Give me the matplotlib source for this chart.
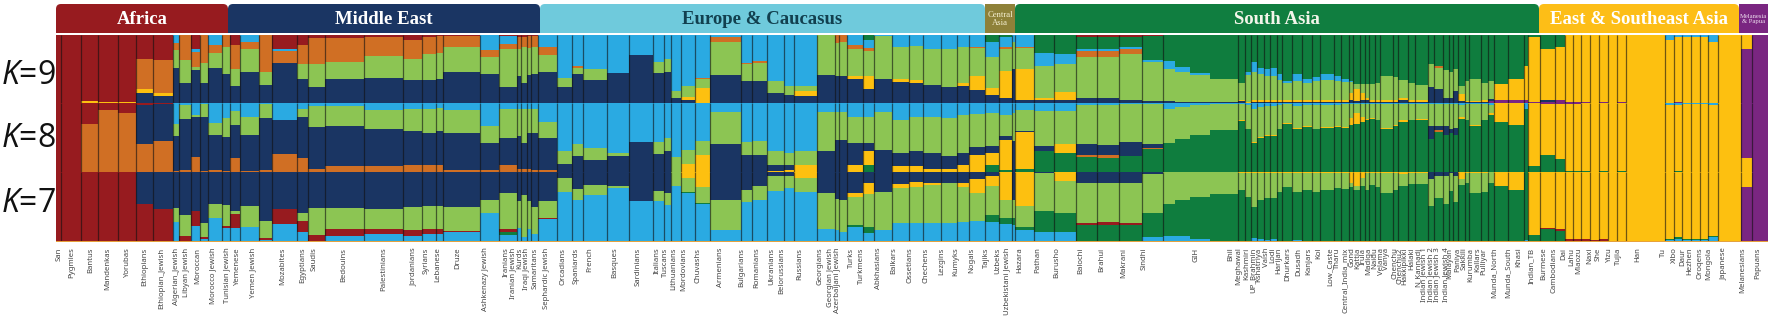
from matplotlib import pyplot as plt
from matplotlib.patches import FancyBboxPatch
import numpy as np

W, H = 1772, 319
LEFT, RIGHT = 56, 1768

red = '#971B1F'
navy = '#1A3563'
lblue = '#2AAAE2'
orange = '#D06F24'
lgreen = '#8CC553'
dgreen = '#0F7D3E'
yellow = '#FDC010'
purple = '#7A2681'

# width of each column of samples
col_sizes = [5, 20, 17, 20, 18, 17, 20] \
    + [6, 12, 9, 8, 14, 8, 10, 19, 13, 25, 11, 17, 39, 39, 19, 14, 7, 37, 19, 18, 4, 6, 4, 7, 19] \
    + [15, 11, 24, 22, 24, 11, 7, 10, 14, 15, 31, 11, 15, 17, 10, 23, 18, 4, 8, 16, 11, 18, 17, 14, 18, 16, 12, 16] \
    + [14, 13, 3, 19] \
    + [20, 22, 21, 22, 23, 21] \
    + [12, 15, 20, 28] \
    + [7, 6, 6, 7, 6, 7, 5, 10, 10, 10, 8, 14, 7, 8, 4, 7, 5, 4, 6, 5, 13, 5, 10, 7, 13, 6, 9, 6, 4, 5, 7, 4, 12, 7, 6, 14, 16] \
    + [4, 12, 15, 10, 8, 8, 9, 9, 9, 9, 9, 39, 9, 8, 9, 9, 8, 10, 23, 11, 16]
# the GIH columns are one population, no line between them
gih_inner = [70, 71, 72]

# K=9, top to bottom, percent
k9_red = [100, 100, 97, 98, 98, 35, 37] \
    + [0, 0, 20, 0, 0, 0, 15, 0, 0, 21, 15, 5, 5, 3, 7, 3, 2, 1, 0, 1, 3, 3, 2, 1, 0] \
    + [0] * 28 + [0] * 4 + [0, 0, 3, 3, 3, 2] + [0] * 4 + [0] * 37 + [0] * 21
k9_dgreen = [0] * 7 + [0] * 25 + [0] * 20 + [7] + [0] * 7 + [10, 3, 0, 0] \
    + [27, 28, 17, 17, 15, 35] + [38, 47, 56, 64] \
    + [70, 55, 40, 48, 50, 48, 58, 68, 58, 65, 62, 58, 60, 65, 67, 72, 72, 72, 72, 70, 60, 62, 66, 70, 73,
       42, 45, 52, 55, 50, 75, 68, 65, 70, 68, 72, 65] \
    + [45, 3, 20, 18] + [0] * 17
k9_lblue = [0] * 7 \
    + [12, 0, 5, 0, 15, 0, 0, 10, 0, 3, 0, 0, 0, 0, 0, 0, 0, 0, 22, 12, 0, 0, 0, 0, 17] \
    + [63, 46, 50, 56, 29, 40, 36, 83, 75, 63, 3, 41, 38, 68, 75, 75, 0, 0, 0, 15, 12, 2, 18, 16, 20, 20, 18, 18] \
    + [22, 15, 10, 18] + [18, 15, 3, 3, 2, 3] + [12, 8, 3, 0] \
    + [0, 4, 15, 10, 10, 12, 8, 3, 9, 5, 5, 8, 7, 4, 2] + [0] * 22 \
    + [0] * 12 + [8, 3, 3, 3, 3, 10] + [0] * 3
k9_orange = [0, 0, 0, 0, 0, 45, 48] \
    + [10, 37, 22, 41, 12, 17, 35, 10, 54, 17, 27, 38, 34, 28, 28, 25, 25, 17, 10, 8, 17, 15, 17, 17, 12] \
    + [0, 2, 0, 0, 0, 0, 0, 0, 0, 2, 8, 2, 3, 0, 0, 0, 0, 12, 10, 5, 5, 0, 0, 0, 0, 0, 0, 1] \
    + [0, 2, 0, 1] + [0, 0, 10, 10, 8, 0] + [0] * 4 + [0] * 26 + [3] + [0] * 10 + [0] * 21
k9_lgreen = [0] * 7 \
    + [26, 34, 5, 29, 22, 40, 25, 34, 20, 0, 22, 33, 26, 32, 31, 38, 38, 37, 25, 55, 40, 52, 40, 40, 25] \
    + [13, 9, 16, 0, 0, 16, 18, 10, 16, 13, 48, 25, 26, 18, 13, 8, 59, 48, 50, 40, 36, 63, 46, 50, 53, 56, 52, 42] \
    + [46, 33, 40, 31] + [48, 41, 60, 60, 68, 57] + [47, 43, 40, 35] \
    + [25, 39, 41, 38, 36, 36, 30, 25, 29, 26, 29, 30, 29, 27, 17, 7, 14, 21, 24, 26, 36, 34, 26, 26, 23,
       35, 32, 41, 38, 33, 12, 29, 32, 26, 26, 0, 0] \
    + [0] * 21
k9_yellow = [0, 0, 3, 2, 2, 5, 5] + [0] * 25 \
    + [0] * 8 + [4, 22] + [0] * 5 + [7] + [0] * 3 + [5, 20, 0, 5, 5, 1, 0, 5, 20] \
    + [10, 40, 0, 46] + [2, 12, 0, 0, 0, 0] + [0] * 4 \
    + [2] * 14 + [10, 18, 10, 3, 2, 2, 2, 2, 4, 2, 2, 0, 0, 0, 0, 0, 10, 2, 2, 2, 0, 24, 30] \
    + [50, 95, 76, 78, 99, 99, 99, 100, 99, 100, 99, 100, 92, 96, 97, 97, 97, 90, 100, 20, 0]
k9_purple = [0] * 7 + [0] * 25 + [0] * 28 + [0] * 4 + [0] * 6 + [0] * 4 + [0] * 34 + [3, 4, 5] \
    + [5, 2, 2, 4, 1, 1, 1, 0, 1, 0, 1, 0, 0, 1, 0, 0, 0, 0, 0, 80, 100]

# K=8
k8_red = [100, 100, 30, 10, 14, 3, 2] + [0] * 125
k8_purple = [0] * 111 + [0, 0, 1, 1, 1, 1, 0, 0, 0, 0, 0, 0, 0, 0, 0, 0, 0, 0, 0, 80, 100]
k8_lblue = [0] * 7 \
    + [30, 3, 18, 2, 29, 22, 12, 20, 2, 24, 8, 5, 4, 10, 8, 8, 7, 10, 33, 8, 8, 8, 8, 8, 28] \
    + [70, 60, 65, 72, 57, 57, 50, 78, 68, 55, 13, 57, 55, 70, 72, 70, 13, 13, 13, 20, 20, 13, 24, 20, 20, 22, 18, 16] \
    + [15, 18, 15, 10] + [12, 12, 3, 3, 2, 2] + [8, 6, 3, 1] \
    + [2, 3, 8, 6, 5, 5, 3, 2, 4, 3, 3, 3, 3, 2, 2, 1, 1, 1, 1, 1, 1, 1, 1, 1, 1, 1, 1, 1, 1, 1, 3, 1, 1, 1, 3, 0, 0] \
    + [8, 0, 0, 0, 0, 0, 0, 0, 0, 0, 0, 0, 3, 3, 1, 1, 1, 3, 0, 0, 0]
k8_lgreen = [0] * 7 \
    + [18, 20, 2, 18, 18, 27, 20, 27, 20, 0, 12, 30, 30, 28, 32, 35, 33, 33, 25, 42, 40, 50, 35, 35, 22] \
    + [18, 17, 18, 5, 0, 17, 20, 22, 21, 20, 46, 18, 20, 20, 18, 20, 56, 40, 40, 38, 38, 55, 48, 50, 53, 55, 55, 48] \
    + [48, 30, 40, 30] + [50, 48, 57, 58, 55, 58] + [50, 46, 43, 38] \
    + [23, 34, 49, 43, 42, 42, 34, 27, 32, 31, 34, 32, 31, 33, 20, 14, 19, 22, 21, 23, 35, 31, 24, 23, 22,
       33, 33, 32, 37, 35, 17, 23, 31, 23, 12, 0, 0] \
    + [0] * 21
k8_navy = [0, 0, 0, 0, 0, 57, 53] \
    + [50, 74, 58, 78, 50, 49, 48, 51, 75, 50, 60, 60, 58, 54, 50, 47, 50, 54, 39, 40, 47, 37, 53, 54, 47] \
    + [12, 23, 17, 23, 43, 26, 30, 0, 0, 0, 41, 25, 25, 8, 7, 0, 31, 47, 47, 32, 12, 32, 20, 22, 22, 19, 17, 12] \
    + [10, 5, 45, 2] + [8, 0, 15, 15, 20, 5] + [0] * 4 + [0] * 25 + [18, 5, 13, 5, 10] + [0] * 7 + [0] * 21
k8_yellow = [0] * 7 + [0] * 25 \
    + [0, 0, 0, 0, 0, 0, 0, 0, 11, 25, 0, 0, 0, 2, 3, 10, 0, 0, 0, 10, 20, 0, 8, 8, 5, 4, 10, 24] \
    + [17, 44, 0, 53] + [0, 12, 0, 0, 0, 0] + [0] * 4 \
    + [1] * 14 + [10, 15, 8, 2, 1, 1, 1, 1, 3, 1, 1, 0, 0, 0, 0, 0, 3, 1, 1, 1, 3, 28, 32] \
    + [0, 92, 75, 80, 98, 98, 99, 100, 99, 100, 99, 100, 97, 95, 99, 99, 99, 97, 100, 20, 0]
k8_orange = [0, 0, 70, 90, 86, 40, 45] \
    + [2, 3, 22, 2, 3, 2, 20, 2, 3, 26, 20, 5, 8, 8, 10, 10, 10, 3, 3, 10, 5, 5, 4, 3, 3] \
    + [0] * 28 + [0] * 4 + [0, 0, 3, 3, 0, 2] + [0] * 4 + [0] * 26 + [3] + [0] * 10 + [0] * 21

# K=7
k7_navy = [0, 0, 0, 0, 0, 45, 53] \
    + [52, 62, 55, 73, 45, 47, 55, 49, 70, 53, 58, 52, 52, 53, 50, 48, 48, 50, 40, 30, 42, 33, 42, 50, 42] \
    + [9, 24, 18, 20, 42, 27, 30, 0, 0, 0, 40, 25, 20, 5, 5, 0, 30, 38, 40, 30, 15, 28, 17, 14, 15, 15, 15, 10] \
    + [5, 0, 40, 0] + [2, 0, 15, 15, 15, 3] + [0] * 4 + [0] * 25 + [10, 5, 5, 2, 5] + [0] * 7 + [0] * 21
k7_yellow = [0] * 7 + [0] * 25 \
    + [0] * 8 + [8, 22] + [0] * 5 + [8] + [0] * 3 + [5, 17, 0, 6, 7, 3, 0, 6, 20] \
    + [15, 40, 0, 48] + [0, 13, 0, 0, 0, 0] + [0] * 4 \
    + [2] * 14 + [15, 20, 8, 2, 2, 2, 2, 2, 3, 2, 2, 0, 0, 0, 0, 0, 10, 2, 2, 2, 0, 20, 25] \
    + [0, 90, 80, 82, 96, 96, 96, 97, 96, 98, 98, 100, 96, 93, 96, 96, 96, 92, 99, 22, 0]
k7_lgreen = [0] * 7 \
    + [20, 30, 0, 20, 20, 30, 5, 29, 24, 0, 12, 38, 30, 29, 33, 33, 34, 34, 18, 52, 38, 60, 40, 38, 24] \
    + [19, 16, 15, 3, 0, 15, 17, 20, 20, 22, 43, 18, 20, 22, 18, 20, 52, 45, 45, 40, 47, 55, 50, 52, 55, 58, 50, 40] \
    + [42, 26, 25, 30] + [53, 45, 58, 57, 58, 55] + [45, 40, 36, 31] \
    + [23, 33, 48, 38, 35, 35, 26, 20, 26, 23, 26, 23, 21, 22, 7, 5, 12, 23, 16, 20, 28, 23, 17, 15, 15,
       38, 32, 40, 25, 38, 8, 13, 28, 26, 15, 0, 0] \
    + [0] * 21
k7_red = [100, 100, 100, 100, 100, 53, 45] \
    + [0, 6, 22, 3, 0, 3, 20, 1, 3, 21, 15, 8, 10, 6, 8, 8, 6, 2, 0, 4, 0, 0, 0, 0, 1] \
    + [0] * 28 + [0] * 4 + [0, 0, 3, 3, 2, 0] + [0] * 4 + [0] * 37 \
    + [0, 0, 2, 2, 2, 2, 2, 1, 2] + [0] * 12
k7_purple = [0] * 130 + [78, 100]
k7_dgreen = [0, 0, 0, 0, 0, 2, 2] + [0] * 19 + [4] + [0] * 5 \
    + [0] * 8 + [2, 1] + [0] * 9 + [3, 8] + [0] * 7 \
    + [10, 8, 10, 5] + [30, 28, 22, 23, 23, 35] + [47, 51, 60, 68] \
    + [74, 63, 44, 55, 60, 59, 70, 77, 69, 74, 70, 73, 75, 75, 77, 74, 80, 75, 82, 78, 70, 75, 80, 83, 83,
       52, 63, 55, 73, 57, 82, 85, 70, 72, 83, 80, 75] \
    + [97, 8, 18, 16, 2, 2, 2, 2, 2, 2, 2, 0, 1, 2, 1, 1, 1, 1, 0, 0, 0]

# the None colour of a panel takes what is left of each column
panel_k9 = [(k9_red, red), (k9_dgreen, dgreen), (k9_lblue, lblue), (k9_orange, orange),
            (k9_lgreen, lgreen), (k9_yellow, yellow), (None, navy), (k9_purple, purple)]
panel_k8 = [(k8_red, red), (k8_purple, purple), (k8_lblue, lblue), (k8_lgreen, lgreen),
            (k8_navy, navy), (k8_yellow, yellow), (k8_orange, orange), (None, dgreen)]
panel_k7 = [(k7_navy, navy), (k7_yellow, yellow), (k7_lgreen, lgreen), (k7_red, red),
            (k7_purple, purple), (k7_dgreen, dgreen), (None, lblue)]

region_names = ['Africa', 'Middle East', 'Europe & Caucasus', 'Central\nAsia', 'South Asia',
                'East & Southeast Asia', 'Melanesia\n& Papua']
region_sizes = [172, 312, 445, 30, 524, 200, 29]
region_colors = [red, navy, '#6FCADC', '#8E8139', '#107E40', '#FDBE17', '#7A2681']
region_text = ['white', 'white', '#12404F', '#F4EFD0', '#F3F5EA', 'white', '#EEDDEE']
region_fs = [13.5, 13.5, 13.5, 6.2, 13.5, 13.5, 4.8]
region_weight = ['bold', 'bold', 'bold', 'normal', 'bold', 'bold', 'normal']
region_round = [5, 5, 5, 0.1, 5, 5, 0.1]

pop_names = ['San', 'Pygmies', 'Bantus', 'Mandenkas', 'Yorubas', 'Ethiopians', 'Ethiopian_Jewish',
             'Algerian_Jewish', 'Libyan Jewish', 'Moroccan', 'Morocco Jewish', 'Tunisian Jewish', 'Yemenese',
             'Yemen Jewish', 'Mozabites', 'Egyptians', 'Saudis', 'Bedouins', 'Palestinians', 'Jordanians',
             'Syrians', 'Lebanese', 'Druze', 'Ashkenazy Jewish', 'Iranians', 'Iranian Jewish', 'Kurds',
             'Iraqi Jewish', 'Samaritans', 'Sephardic Jewish', 'Orcadians', 'Spaniards', 'French', 'Basques',
             'Sardinians', 'Italians', 'Tuscans', 'Lithuanians', 'Mordovians', 'Chuvashs', 'Armenians',
             'Bulgarians', 'Romanians', 'Ukranians', 'Belorussians', 'Russians', 'Georgians', 'Georgian Jewish',
             'Azerbaijani Jewish', 'Turks', 'Turkmens', 'Abkhasians', 'Balkars', 'Ossetians', 'Chechens',
             'Lezgins', 'Kumyks', 'Nogais', 'Tajiks', 'Uzbeks', 'Uzbekistani Jewish', 'Hazara', 'Pathan',
             'Burusho', 'Balochi', 'Brahui', 'Makrani', 'Sindhi', 'GIH', 'Bhil', 'Meghawal', 'Kashmiri',
             'UP_Brahmin', 'Kshatriya', 'Vaish', 'Lodi', 'Harijan', 'Dhurkars', 'Dusadh', 'Kanjars', 'Kol',
             'Low_Caste', 'Tharu', 'Central_India_mix', 'Gond', 'Kattia', 'Irula', 'Madiga', 'Naidu', 'Velama',
             'Vanya', 'Chenchu', 'Chenchu2', 'Hakkipikki', 'Halaki', 'N_Kannadi', 'Indian Jewish 1',
             'Indian Jewish 2', 'Indian Jewish 3', 'Indian Jewish 4', 'Malayan', 'Paniya', 'Sakkili', 'Kurumba',
             'Kallars', 'Pulliyar', 'Munda_North', 'Munda_South', 'Khasi', 'Indian_TB', 'Burmese', 'Cambodians',
             'Dai', 'Lahu', 'Miaozu', 'Naxi', 'She', 'Yizu', 'Tujia', 'Han', 'Tu', 'Xibo', 'Daur', 'Hezhen',
             'Oroqens', 'Mongola', 'Japanese', 'Melanesians', 'Papuans']
pop_ticks = [59, 72, 91, 108, 127, 145, 162, 177, 187, 198, 213, 227, 237, 253, 283, 303, 314, 344, 384, 413,
             426, 438, 458, 486, 506, 513, 520, 527, 535, 547, 563, 576, 590, 615, 638, 657, 665, 674, 684, 698,
             721, 742, 757, 772, 782, 800, 820, 831, 838, 851, 861, 879, 894, 910, 926, 942, 956, 972, 986, 998,
             1007, 1020, 1038, 1057, 1081, 1102, 1124, 1144, 1196, 1231, 1239, 1247, 1253, 1259, 1267, 1273, 1279,
             1288, 1299, 1309, 1319, 1330, 1337, 1345, 1352, 1358, 1363, 1369, 1375, 1382, 1387, 1395, 1400, 1405,
             1412, 1418, 1424, 1431, 1437, 1446, 1450, 1458, 1464, 1471, 1478, 1484, 1494, 1508, 1519, 1531, 1544,
             1554, 1564, 1572, 1579, 1590, 1598, 1609, 1618, 1638, 1663, 1674, 1683, 1690, 1700, 1709, 1724, 1743,
             1758]

plt.rcParams['mathtext.fontset'] = 'custom'
plt.rcParams['mathtext.it'] = 'Open Sans:italic'
plt.rcParams['mathtext.rm'] = 'Open Sans'


def px_axes(fig, top, bottom):
    ax = fig.add_axes([LEFT / W, 1 - bottom / H, (RIGHT - LEFT) / W, (bottom - top) / H])
    ax.set_xlim(LEFT, RIGHT)
    ax.set_yticks([])
    ax.set_xticks([])
    for side in ax.spines.values():
        side.set_visible(False)
    return ax


def draw_panel(ax, panel, lefts, sizes):
    used = np.zeros(len(sizes))
    for values, color in panel:
        if values is None:
            part = 100 - sum(np.array(v, dtype=float) for v, _ in panel if v is not None)
            part = np.clip(part, 0, None)
        else:
            part = np.array(values, dtype=float)
        # each colour runs down to the baseline, the next one paints over it
        ax.bar(lefts, np.clip(100 - used, 0, None), width=sizes, align='edge',
               color=color, linewidth=0, antialiased=False)
        used += part
    ax.set_ylim(0, 100)
    seps = [x for i, x in enumerate(lefts[1:]) if i not in gih_inner]
    ax.vlines(seps, 0, 100, color='#101010', lw=0.9, alpha=0.6)


fig = plt.figure(figsize=(W / 100, H / 100), dpi=100)

sizes = np.array(col_sizes, dtype=float)
lefts = LEFT + np.concatenate([[0], np.cumsum(sizes)[:-1]])

head = px_axes(fig, 4, 33)
head.set_ylim(33, 4)
x = LEFT
for i, name in enumerate(region_names):
    w = region_sizes[i]
    head.add_patch(FancyBboxPatch((x, 4), w, 60, boxstyle=f'round,pad=0,rounding_size={region_round[i]}',
                                  fc=region_colors[i], ec='none'))
    head.text(x + w / 2, 19, name, color=region_text[i], ha='center', va='center', family='Liberation Serif',
              fontsize=region_fs[i], fontweight=region_weight[i], linespacing=1.1)
    x += w

for top, bottom, panel in [(35, 103, panel_k9), (103, 172, panel_k8), (172, 242, panel_k7)]:
    ax = px_axes(fig, top, bottom)
    draw_panel(ax, panel, lefts, sizes)

ax.axhline(0, color='#E9A23B', lw=1.4)
ax.set_xticks(pop_ticks, labels=pop_names, rotation=90, fontsize=5.6, color='#444444', family='Noto Sans')
ax.tick_params(axis='x', length=0, pad=4)

for y, k in [(75, 9), (139, 8), (204, 7)]:
    fig.text(28 / W, 1 - y / H, f'$K$={k}', fontsize=23, ha='center', va='center', family='Open Sans', color='#111111')

plt.savefig('out.png', dpi=100)
